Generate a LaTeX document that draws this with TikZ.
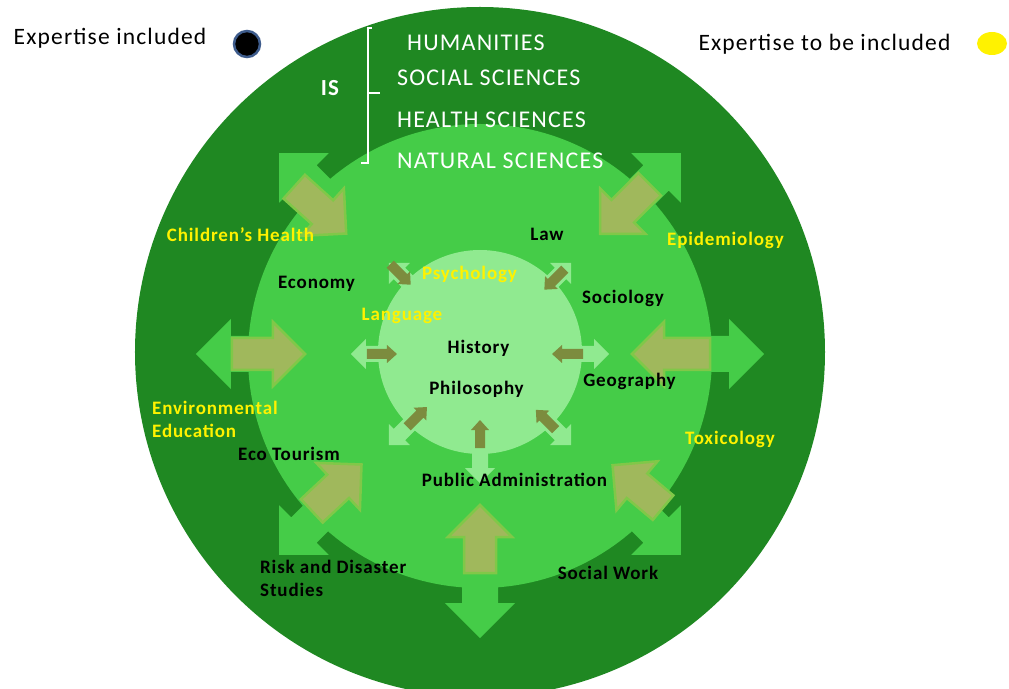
\documentclass[tikz,border=0pt]{standalone}
\usepackage{fontspec}
\setmainfont{Carlito}
\usepackage{tikz}
\definecolor{outergreen}{RGB}{31,136,34}
\definecolor{midgreen}{RGB}{69,204,72}
\definecolor{innergreen}{RGB}{144,234,144}
\definecolor{olivefill}{RGB}{160,184,92}
\definecolor{olivedraw}{RGB}{128,200,72}
\definecolor{smallolive}{RGB}{124,140,62}
\definecolor{dotblue}{RGB}{62,92,140}
\tikzset{
  lbl/.style={inner sep=0pt, font=\fontsize{19}{23}\selectfont\bfseries\addfontfeature{LetterSpace=4.5}},
  scitext/.style={inner sep=0pt, anchor=west, text=white, font=\fontsize{24}{26}\selectfont\addfontfeature{LetterSpace=5}},
  legend/.style={inner sep=0pt, font=\fontsize{23.5}{26}\selectfont\addfontfeature{LetterSpace=5}},
  olivearrow/.style={fill=olivefill, draw=olivedraw, line width=2.5pt},
}
\begin{document}
\begin{tikzpicture}[x=1pt,y=1pt]
\clip (-480,-334) rectangle (529,354);
% rings
\fill [outergreen] (0,2) circle (345);
\fill [midgreen] (0,-2) circle (232);
% outward arrows of the middle ring
\foreach \a in {0,45,135,180,225,270,315} {
  \begin{scope}[rotate=\a]
  \fill [midgreen] (215,18) -- (249,18) -- (249,35) -- (284,0) -- (249,-35) -- (249,-18) -- (215,-18) -- cycle;
  \end{scope}
}
\fill [innergreen] (0,2) circle (102);
% outward arrows of the inner circle
\foreach \a in {0,45,135,180,225,270,315} {
  \begin{scope}[rotate=\a]
  \fill [innergreen] (90,8) -- (114,8) -- (114,15) -- (129,0) -- (114,-15) -- (114,-8) -- (90,-8) -- cycle;
  \end{scope}
}
% inward arrows, middle ring
\foreach \a/\r/\t in {0/230/152,45/240/170,138/250/180,180/248/175,223/230/162,270/219/151,320/239/173} {
  \begin{scope}[rotate=\a]
  \draw [olivearrow] (\r,16) -- (\t+32,16) -- (\t+32,32) -- (\t,0) -- (\t+32,-32) -- (\t+32,-16) -- (\r,-16) -- cycle;
  \end{scope}
}
% inward arrows, inner circle
\foreach \a/\r/\t in {0/103/72,45/120/91,135/127/98,180/113/83,225/103/75,270/94/66,315/107/79} {
  \begin{scope}[rotate=\a]
  \fill [smallolive] (\r,5) -- (\t+10,5) -- (\t+10,9) -- (\t,0) -- (\t+10,-9) -- (\t+10,-5) -- (\r,-5) -- cycle;
  \end{scope}
}
% legend
\node [legend] (incl) at (-370,316) {Expertise included};
\draw [fill=black, draw=dotblue, line width=2.5pt] (-233,310) circle (13);
\node [legend] (tobe) at (344.5,310) {Expertise to be included};
\fill [yellow] (512,310.5) ellipse (15 and 11.5);
% IS brace
\node [inner sep=0pt, text=white, font=\fontsize{23}{26}\selectfont\bfseries\addfontfeature{LetterSpace=5}] (is) at (-150,266) {IS};
\draw [white, line width=2pt] (-108,326) -- (-112,326) -- (-112,191) -- (-119,191);
\draw [white, line width=2pt] (-112,261) -- (-100,261);
\node [scitext] (hum) at (-73,311) {HUMANITIES};
\node [scitext] (soc) at (-83,276) {SOCIAL SCIENCES};
\node [scitext] (hea) at (-83,234) {HEALTH SCIENCES};
\node [scitext] (nat) at (-83,193) {NATURAL SCIENCES};
% disciplines
\node [lbl, text=yellow] (child) at (-239.5,119) {Children’s Health};
\node [lbl] (law) at (67,120) {Law};
\node [lbl, text=yellow] (epi) at (245.5,114) {Epidemiology};
\node [lbl] (eco) at (-163.5,70) {Economy};
\node [lbl, text=yellow] (psy) at (-10.5,80) {Psychology};
\node [lbl] (socio) at (143,56) {Sociology};
\node [lbl, text=yellow] (lang) at (-78,38) {Language};
\node [lbl] (hist) at (-1.5,6) {History};
\node [lbl] (geo) at (149.5,-27) {Geography};
\node [lbl] (phil) at (-3.5,-35) {Philosophy};
\node [lbl, text=yellow, anchor=west, align=left] (env) at (-328,-65) {Environmental\\Education};
\node [lbl, text=yellow] (tox) at (250,-85) {Toxicology};
\node [lbl] (tour) at (-191,-100) {Eco Tourism};
\node [lbl] (pub) at (34.5,-126) {Public Administration};
\node [lbl, anchor=west, align=left] (risk) at (-220,-224.5) {Risk and Disaster\\Studies};
\node [lbl] (work) at (128,-219) {Social Work};
\end{tikzpicture}
\end{document}
